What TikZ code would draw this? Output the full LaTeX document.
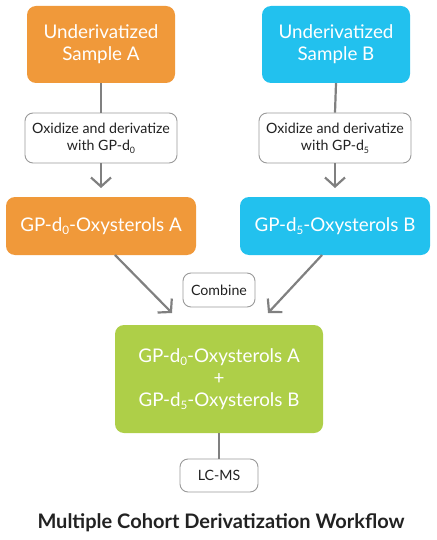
\documentclass[tikz,border=0pt]{standalone}
\usepackage{fontspec}
\setmainfont{Lato}
\usetikzlibrary{arrows.meta}
\definecolor{orangeA}{HTML}{F0993A}
\definecolor{blueB}{HTML}{22C1EE}
\definecolor{greenC}{HTML}{AECF48}
\definecolor{arrowgray}{HTML}{808080}
\definecolor{edgegray}{HTML}{9A9A9A}
\definecolor{txtdark}{HTML}{222222}
\newcommand{\sbs}[1]{\raisebox{-0.35ex}{\scalebox{0.62}{#1}}}
\begin{document}
\begin{tikzpicture}[x=1pt,y=-1pt,
  bigbox/.style={rounded corners=9pt, text=white, align=center, inner sep=0pt, font=\fontsize{18.8}{22}\selectfont},
  stepbox/.style={draw=edgegray, line width=0.9pt, fill=white, rounded corners=8pt, text=txtdark, align=center, inner sep=0pt, font=\fontsize{14.2}{17.5}\selectfont},
  conn/.style={draw=arrowgray, line width=2.2pt},
  arr/.style={conn, -{Straight Barb[length=9pt,width=20pt,line width=2.2pt]}}
]
\useasboundingbox (0,0) rectangle (436,540);
\node[bigbox, fill=orangeA, minimum width=148pt, minimum height=77pt] (ua) at (101,44.5) {Underivatized\\Sample A};
\node[bigbox, fill=blueB, minimum width=148pt, minimum height=77pt] (ub) at (336,44.5) {Underivatized\\Sample B};
\node[stepbox, minimum width=152pt, minimum height=50pt] (oa) at (101,138) {Oxidize and derivatize\\with GP-d\sbs{0}};
\node[stepbox, minimum width=152pt, minimum height=50pt] (ob) at (335,138) {Oxidize and derivatize\\with GP-d\sbs{5}};
\node[bigbox, fill=orangeA, minimum width=190pt, minimum height=58pt] (ga) at (101,226) {GP-d\sbs{0}-Oxysterols A};
\node[bigbox, fill=blueB, minimum width=190pt, minimum height=58pt] (gb) at (335,226) {GP-d\sbs{5}-Oxysterols B};
\node[stepbox, minimum width=72pt, minimum height=34pt] (cb) at (219,290) {Combine};
\node[bigbox, fill=greenC, minimum width=208pt, minimum height=108pt] (gc) at (219,379) {GP-d\sbs{0}-Oxysterols A\\+\\GP-d\sbs{5}-Oxysterols B};
\node[stepbox, minimum width=78pt, minimum height=33pt] (lc) at (219,475.5) {LC-MS};
\node[font=\bfseries\fontsize{20}{24}\selectfont, text=txtdark] (title) at (221,522.5) {Multiple Cohort Derivatization Workflow};
\coordinate (ta) at (101,188);
\coordinate (tb) at (335,188);
\coordinate (tca) at (172,313);
\coordinate (tcb) at (268,313);
\draw[conn] (ua.south) -- (oa.north);
\draw[conn] (ub.south) -- (ob.north);
\draw[arr] (oa.south) -- (ta);
\draw[arr] (ob.south) -- (tb);
\draw[arr] (115,255) -- (tca);
\draw[arr] (322,255) -- (tcb);
\draw[conn] (gc.south) -- (lc.north);
\end{tikzpicture}
\end{document}
